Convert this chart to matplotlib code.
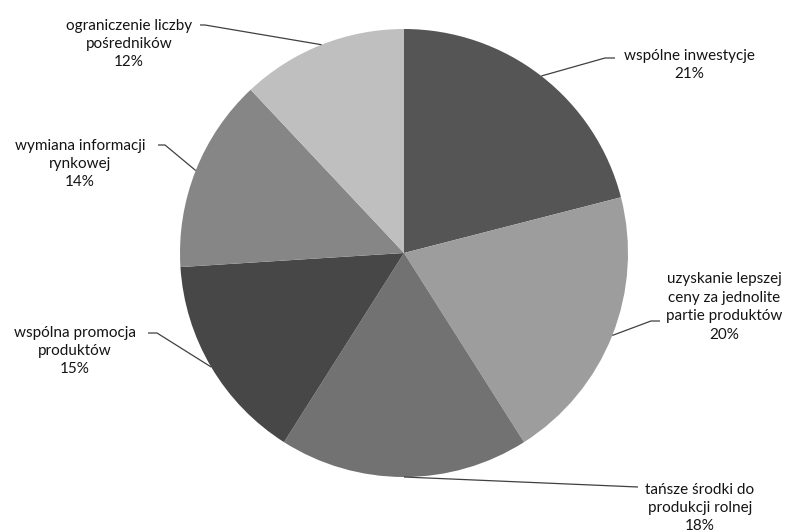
import numpy as np
import matplotlib
matplotlib.use("Agg")
import matplotlib.pyplot as plt

# ── data ──────────────────────────────────────────────────────────────────────
labels = [
    "wspólne inwestycje",
    "uzyskanie lepszej\nceny za jednolite\npartie produktów",
    "tańsze środki do\nprodukcji rolnej",
    "wspólna promocja\nproduktów",
    "wymiana informacji\nrynkowej",
    "ograniczenie liczby\npośredników",
]
values = [21, 20, 18, 15, 14, 12]
colors = ["#555555", "#9d9d9d", "#727272", "#474747", "#868686", "#bfbfbf"]

# ── layout (pixel coords, y measured from top) ────────────────────────────────
W, H = 799, 532
CX, CY, R = 404, 253, 224
# label block centre, elbow points of the leader line
label_pos = [(689, 65), (724, 307), (700, 508), (75, 351), (80, 164), (129, 44)]
elbows = [
    [(605, 58), (615, 58)],
    [(651, 321), (660, 321)],
    [(638, 487)],
    [(157, 333), (148, 333)],
    [(165, 145), (158, 145)],
    [(205, 25), (200, 25)],
]


def fy(y):
    return H - y


fig = plt.figure(figsize=(W / 100, H / 100), dpi=100)
ax = fig.add_axes([0, 0, 1, 1])

wedges, _ = ax.pie(
    values, colors=colors, startangle=90, counterclock=False,
    center=(CX, fy(CY)), radius=R, wedgeprops=dict(linewidth=0),
)
ax.set_xlim(0, W)
ax.set_ylim(0, H)
ax.set_aspect("equal")
ax.axis("off")

for w, lab, v, (tx, ty), pts in zip(wedges, labels, values, label_pos, elbows):
    mid = np.deg2rad((w.theta1 + w.theta2) / 2)
    x0 = CX + R * np.cos(mid)
    y0 = fy(CY) + R * np.sin(mid)
    xs = [x0] + [p[0] for p in pts]
    ys = [y0] + [fy(p[1]) for p in pts]
    ax.plot(xs, ys, color="#404040", lw=0.9, solid_capstyle="butt")
    ax.text(tx, fy(ty), f"{lab}\n{v}%", ha="center", va="center",
            fontsize=11, family="Lato", color="#141414", linespacing=1.4)

fig.savefig("out.png", dpi=100)
